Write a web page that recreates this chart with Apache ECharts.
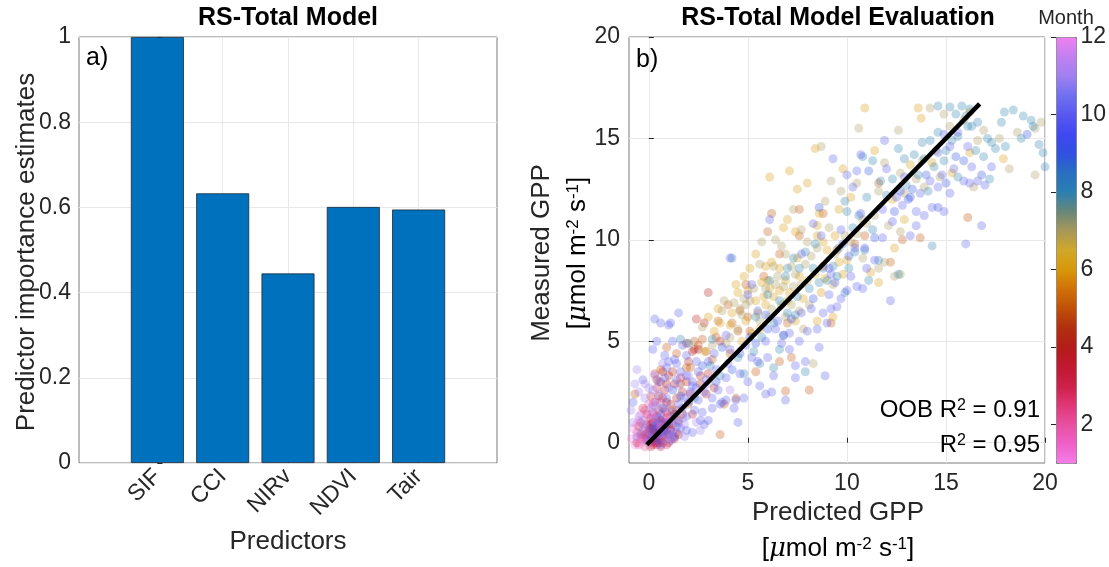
<!DOCTYPE html>
<html>
<head>
<meta charset="utf-8">
<script src="https://cdn.jsdelivr.net/npm/echarts@6/dist/echarts.min.js"></script>
<style>
  html, body { margin: 0; padding: 0; background: #ffffff; }
  #chart { width: 1109px; height: 567px; }
</style>
</head>
<body>
<div id="chart"></div>
<script>
// ---- panel a: predictor importance ----
const predictors = ['SIF', 'CCI', 'NIRv', 'NDVI', 'Tair'];
const importance = [1.0, 0.633, 0.445, 0.601, 0.595];

// ---- panel b: predicted vs measured GPP, one list per month ----
const jan = [[-0.8,0.7],[-0.5,1.1],[-0.9,0.2],[-0.7,-0.1],[0.1,0.3],[-0.4,1.4],[0.2,1.9],[-0.3,0.6],[0.4,0.1],[0.0,1.2],
  [-0.6,0.3],[0.3,0.9],[-0.1,0.2]];
const feb = [[-0.2,1.6],[0.0,1.9],[-0.4,0.2],[0.2,0.0],[0.5,0.6],[0.3,1.2],[0.6,2.0],[0.9,1.5],[-0.2,-0.2],[0.4,0.4],
  [0.0,0.8],[0.7,1.2],[1.1,0.7],[-0.6,0.5],[0.3,0.2],[0.8,0.3],[-0.1,0.5],[0.5,0.9],[1.4,0.5],[0.2,0.6],
  [0.1,0.1],[0.4,0.0],[0.2,0.3],[-0.3,0.3],[0.6,0.1],[0.0,0.6],[-0.5,-0.1],[0.8,0.6],[1.2,0.2],[0.3,0.8]];
const mar = [[0.3,3.4],[0.6,3.0],[0.4,2.7],[0.1,2.3],[-0.3,1.7],[0.5,1.6],[0.2,1.0],[0.6,1.1],[0.3,0.7],[0.0,0.5],
  [0.5,0.3],[0.2,0.2],[-0.2,0.4],[0.7,0.0],[0.4,-0.1],[-0.1,0.1],[0.1,-0.2],[0.9,-0.1],[0.8,0.8],[1.0,0.4],
  [0.3,0.0],[0.6,0.5],[0.1,0.9],[-0.4,1.0],[0.9,1.2],[0.2,1.5],[1.3,0.2],[0.7,0.3],[-0.6,0.0],[0.4,0.6],
  [0.2,0.1],[0.5,0.0],[0.0,0.1],[0.3,0.4],[-0.2,0.2],[0.6,0.7],[0.9,0.4],[0.1,1.2],[-0.4,0.4],[0.4,1.3],
  [0.8,1.6],[1.1,1.3],[0.3,2.0],[-0.1,1.4],[1.4,1.6],[0.7,2.2],[1.6,3.2],[2.1,2.4],[0.2,-0.1],[0.6,-0.2],
  [1.0,0.0],[-0.1,0.9],[0.8,1.0],[0.4,0.2]];
const apr = [[0.8,2.6],[1.2,3.5],[1.0,3.3],[-0.5,0.8],[1.2,0.9],[1.5,1.1],[1.7,1.4],[1.9,3.0],[2.3,4.6],[2.4,6.1],
  [3.0,7.4],[2.6,3.3],[3.3,2.7],[1.5,0.4],[2.0,4.0],[1.4,2.2],[2.9,2.4],[3.6,5.0],[0.6,0.2],[1.1,1.9],
  [0.5,2.3],[1.7,2.5],[1.0,0.9],[2.2,1.4],[0.3,0.5],[0.7,3.5],[0.4,3.1],[1.3,2.9],[0.9,2.9],[2.6,2.9],
  [2.2,4.5],[1.9,4.9],[2.8,5.9],[3.0,3.4],[1.1,0.6],[0.5,1.0],[0.9,2.0],[0.1,0.7],[1.3,1.4],[2.5,4.6]];
const may = [[-0.7,2.4],[6.9,2.55],[8.1,2.6],[4.4,2.2],[3.2,4.1],[2.7,5.1],[4.0,6.8],[2.3,5.0],[4.9,7.8],[3.8,1.9],
  [5.1,5.5],[0.9,4.7],[4.5,5.5],[3.6,0.4],[8.8,11.3],[7.6,11.5],[6.0,10.4],[7.2,4.2],[12.2,8.9],[13.7,10.1],
  [9.2,5.9],[1.6,2.9],[2.0,1.9],[1.2,1.6],[2.1,3.7],[16.1,11.1],[6.2,11.3],[12.8,10.0],[11.6,12.8],[4.6,6.5],
  [3.5,6.0],[5.4,3.5],[7.0,5.9],[2.9,4.5],[10.4,9.8],[2.5,4.8],[3.4,5.2],[4.2,5.9],[5.0,6.2],[5.8,8.2],
  [6.6,9.3],[7.6,10.2],[8.8,8.7],[9.5,9.5],[10.9,10.2],[6.6,4.0],[4.1,4.4],[1.4,4.4],[0.6,3.6],[1.9,3.7]];
const jun = [[10.9,16.5],[13.75,16.0],[8.4,14.5],[7.1,13.4],[6.1,13.1],[5.4,9.3],[5.9,8.7],[6.6,8.6],[7.5,9.1],[6.0,8.0],
  [5.0,7.5],[4.5,7.4],[4.2,6.4],[5.2,5.4],[4.7,5.0],[3.5,6.6],[5.8,7.2],[7.1,7.4],[7.4,6.0],[5.5,6.4],
  [6.8,10.6],[7.4,10.4],[8.5,10.7],[9.6,11.5],[8.5,10.2],[8.8,9.9],[9.6,8.9],[10.0,9.0],[11.2,8.4],[9.8,8.3],
  [8.7,7.4],[9.3,6.2],[8.5,6.0],[11.6,7.9],[7.0,11.0],[4.8,8.2],[3.3,5.5],[3.0,6.2],[8.0,8.0],[6.3,7.2],
  [2.8,4.5],[16.2,14.3],[15.3,13.3],[13.2,13.7],[12.3,12.0],[11.4,14.4],[10.2,12.1],[12.9,11.0],[12.4,9.6],[16.2,16.3],
  [13.6,16.5],[7.5,12.5],[8.0,12.8],[9.8,13.5],[8.6,11.3],[14.3,13.8],[17.9,14.0],
  [4.4,7.8],[5.1,8.6],[5.7,7.9],[6.2,8.9],[6.9,8.0],[7.6,8.2],[7.0,7.0],[6.1,7.6],[5.4,7.0],[4.9,6.0],
  [4.1,5.8],[3.6,5.9],[5.9,6.8],[6.6,7.5],[7.8,7.1],[8.4,8.3],[8.9,8.1],[9.0,9.5],[9.4,10.2],[5.6,5.6]];
const jul = [[14.2,16.5],[19.8,15.8],[19.5,15.5],[19.5,13.2],[18.2,13.5],[16.6,14.9],[16.4,12.6],[15.9,15.9],[14.7,13.1],[13.8,13.9],
  [13.5,13.0],[12.7,13.3],[11.9,13.8],[11.6,12.4],[10.5,12.8],[10.8,11.0],[12.7,10.4],[10.6,15.5],[14.9,16.2],[12.6,15.4],
  [8.7,14.6],[7.3,11.5],[9.2,12.9],[5.6,8.8],[6.3,8.7],[6.9,9.3],[7.2,8.7],[7.9,8.8],[6.5,8.2],[5.3,7.6],
  [4.8,7.1],[4.3,6.9],[4.7,6.3],[4.5,5.6],[3.8,7.0],[3.7,6.5],[4.9,6.8],[6.7,6.8],[7.6,6.5],[6.9,6.2],
  [6.2,6.6],[7.7,10.5],[6.4,10.0],[9.1,10.6],[8.9,11.9],[9.7,12.4],[8.2,9.2],[9.4,9.3],[10.2,9.9],[10.8,9.1],
  [11.6,8.6],[9.3,7.8],[8.1,6.8],[7.8,5.6],[12.4,8.2],[11.9,8.9],[6.7,9.7],[5.7,9.9],[2.7,5.7],[7.7,7.8],
  [7.3,7.7],[3.9,4.9],[8.3,3.9],[12.7,8.3],
  [4.6,6.6],[5.1,7.0],[5.9,7.6],[6.4,7.8],[6.8,7.7],[7.4,8.3],[8.0,9.9],[8.5,9.6],[9.9,10.2],[10.5,10.3],
  [11.0,10.8],[11.4,11.2],[12.1,10.7],[12.9,12.3],[13.9,12.6],[14.5,14.4],[15.2,15.6],[16.9,15.4],[17.7,15.0],[18.6,15.3],
  [6.1,6.2],[7.2,6.8],[4.1,5.2],[3.2,4.8],[5.6,6.0]];
const aug = [[14.6,16.6],[15.2,16.55],[15.8,16.6],[16.2,16.45],[16.0,16.1],[15.5,16.2],[17.95,16.3],[18.4,16.4],[18.9,16.1],[19.3,15.9],
  [19.4,15.6],[19.7,14.7],[20.0,13.6],[17.5,14.5],[17.1,15.0],[17.3,14.8],[16.6,15.8],[16.3,15.6],[15.6,15.1],[14.6,15.3],
  [14.2,14.9],[13.4,14.2],[13.9,14.0],[15.0,14.4],[14.4,13.6],[15.6,13.1],[17.2,13.0],[16.9,14.1],[14.1,12.4],[13.0,12.7],
  [12.6,14.5],[12.3,13.0],[11.3,13.9],[10.8,14.1],[12.0,12.2],[16.1,15.6],[18.0,14.6],[13.6,13.2],
  [6.1,8.0],[6.6,7.0],[7.0,8.6],[7.3,9.1],[7.9,9.4],[8.3,8.6],[8.8,8.6],[9.5,8.2],[9.3,8.7],[10.1,8.6],
  [10.4,9.4],[10.9,9.5],[11.3,10.5],[11.6,9.0],[12.6,8.3],[10.6,11.2],[10.0,11.4],[9.9,11.9],[7.0,6.4],[6.3,5.9],
  [7.4,6.3],[6.8,5.3],[5.4,6.2],[6.3,3.7],[5.6,3.9],[4.2,9.1],[2.0,4.9],[3.2,5.1],[3.6,3.3],[1.6,5.1],
  [14.3,9.7],[7.9,3.5],[5.3,4.5],[4.8,3.4],[6.9,8.2],
  [7.5,7.2],[8.1,7.6],[8.6,7.9],[9.0,8.0],[6.0,7.3],[7.6,8.6],[8.4,9.8],[9.6,9.6],[10.3,10.6],[11.0,12.1],
  [11.7,12.9],[12.9,14.0],[13.8,14.8],[14.9,13.9],[15.3,14.9],[16.5,14.4],[17.8,15.8],[18.8,15.0],[19.9,14.3],[5.7,5.2],
  [6.6,4.6],[4.5,4.2],[3.1,3.8],[2.3,2.2],[9.9,7.4],[11.1,8.0]];
const sep = [[16.8,13.2],[15.9,13.9],[15.5,14.1],[13.2,12.1],[13.3,12.5],[13.1,12.0],[14.6,11.6],[12.4,11.4],[11.1,13.4],[9.8,9.8],
  [8.6,11.6],[5.9,6.3],[5.4,4.9],[4.6,4.4],[0.7,1.7],[0.9,0.5],[1.3,0.3],[1.2,2.6],[3.7,4.7],[19.1,15.2],
  [0.5,0.5],[0.9,0.9],[0.2,0.8],[1.6,2.3],[2.7,3.8],[3.4,3.0],[4.2,3.6],[5.1,5.2],[6.0,5.6],[7.2,6.1],
  [8.3,7.1],[10.1,9.2],[11.4,10.1],[12.7,12.4],[14.0,13.2],[15.0,12.8]];
const oct = [[16.97,12.7],[16.6,12.9],[16.2,12.8],[15.2,14.6],[14.6,14.3],[14.9,15.2],[13.7,12.3],[13.5,11.4],[14.3,11.6],[14.9,11.4],
  [13.5,10.7],[13.2,10.2],[11.8,11.5],[12.0,13.5],[10.5,13.4],[10.0,13.2],[10.3,12.6],[15.2,12.3],[15.9,12.9],[16.3,13.6],
  [15.6,15.3],[16.8,10.7],[16.0,9.8],[12.5,12.1],[12.9,13.1],[14.6,12.6],[14.8,13.2],[11.9,14.9],[10.7,14.2],[9.3,14.0],
  [5.0,7.3],[5.5,6.5],[6.5,6.0],[6.8,5.3],[7.1,5.4],[5.9,5.0],[5.2,4.2],[4.1,4.6],[3.3,4.4],[3.0,4.0],
  [2.5,3.5],[3.9,3.2],[4.6,3.4],[5.0,3.0],[5.6,2.8],[4.8,2.2],[5.9,2.4],[4.4,2.1],[3.7,2.0],[6.2,2.5],
  [7.4,3.2],[7.9,4.0],[8.6,4.7],[9.0,5.9],[8.5,5.6],[8.2,6.6],[7.7,6.4],[9.2,6.6],[9.5,6.7],[9.7,7.1],
  [9.1,7.3],[10.0,7.5],[10.5,7.7],[10.8,7.6],[10.4,9.6],[10.9,9.6],[11.4,9.0],[10.7,11.3],[9.7,10.5],[8.7,10.2],
  [8.3,10.8],[9.1,8.6],[9.2,8.3],[7.7,9.3],[4.1,9.1],[3.9,5.3],[6.1,11.0],[12.2,7.0],[6.7,4.9],[5.2,7.8],
  [8.9,3.3],[7.4,3.8],[6.9,2.1],[4.3,1.7],[2.8,2.5],[3.5,2.6],[2.4,4.0],
  [0.3,6.1],[0.6,5.9],[1.0,5.8],[1.1,5.9],[0.4,5.0],[1.2,5.0],[1.5,6.4],[0.5,3.0],[1.0,4.0],[1.3,4.1],
  [1.4,3.9],[0.9,3.7],[1.6,3.5],[1.9,3.3],[2.2,3.0],[1.9,4.3],[2.2,2.8],[1.8,2.2],[2.5,2.1],[2.7,1.5],
  [3.0,1.1],[2.3,1.6],[1.5,1.9],[1.2,1.5],[0.9,2.2],[1.0,1.0],[1.4,0.8],[1.6,0.7],[1.9,0.6],[2.2,0.5],
  [0.7,0.6],[0.5,1.2],[0.4,0.9],[0.1,0.6],[0.6,-0.1],[1.1,0.1],[2.8,0.9],[3.2,1.7],[3.9,2.1],[4.5,1.0],
  [3.6,1.9],[2.0,2.0],[0.8,3.2],[1.7,4.8],[0.2,0.4],[0.5,0.2],[0.8,0.5],[0.4,0.8],[0.6,1.4],[1.5,1.0],
  [6.0,4.2],[6.4,5.6],[7.1,4.6],[7.6,5.0],[8.0,5.5],[8.8,6.4],[9.4,7.9],[10.2,8.2],[11.0,8.6],[11.8,10.1],
  [12.3,10.9],[12.8,11.7],[13.9,11.2],[14.2,12.9],[15.4,13.5],[16.1,14.6],[17.3,13.6],[3.4,3.6],[2.9,3.1],[2.1,2.5],
  [4.0,3.9],[4.9,4.8],[5.5,4.0],[6.3,3.3],[3.2,2.2],[2.6,1.1],[1.7,1.7],[1.2,0.5],[0.7,1.0],[0.3,0.1],
  [0.0,0.2],[1.9,1.3],[2.4,2.7],[1.4,3.1],[0.8,4.3],[0.2,4.6],[-0.3,3.1],[-0.8,2.0]];
const nov = [[-0.6,3.6],[-0.7,2.9],[-0.5,2.5],[-0.2,2.2],[0.2,2.6],[0.4,2.0],[0.2,1.4],[-0.3,0.9],[-0.6,0.3],[-0.4,0.5],
  [0.3,3.3],[-0.9,1.6],[1.1,0.5],[0.3,1.8],[-0.3,1.1],[0.8,0.2],[1.3,1.2],[0.0,2.7],[2.4,1.0],[1.8,0.3],
  [0.0,0.3],[-0.2,0.7],[1.8,0.9],[0.9,1.8],[0.3,1.1],[1.1,0.3],
  [0.1,1.7],[-0.5,1.3],[0.5,2.4],[1.0,2.7],[1.5,2.8],[2.0,3.3],[0.7,3.9],[1.2,1.1],[-0.1,0.0],[-0.8,1.0],
  [-0.2,2.9],[0.6,0.4],[1.7,1.2],[2.6,0.6],[3.0,2.9],[4.1,2.6]];
const dec = [[-0.6,0.9],[0.1,1.4],[-0.3,0.1],[0.6,0.8],[1.0,1.1]];

// regression line end points and fit statistics
const fitLine = [[-0.1, -0.1], [16.7, 16.7]];
const oobR2 = '0.91';
const fitR2 = '0.95';

// tick values
const gppTicks = [0, 5, 10, 15, 20];
const monthTicks = [2, 4, 6, 8, 10, 12];

// month colour scale, stops at half-month steps from 1 to 12
const monthColors = ['#f47ee8', '#f060c8', '#e850a0', '#e03878', '#cc2048', '#c01830', '#b41c18', '#b03010',
  '#c05008', '#d07008', '#d89808', '#d0a828', '#a89858', '#688878', '#2a80b0', '#2870c0', '#3050e0',
  '#4048f0', '#5858f0', '#7070f0', '#a080f0', '#c080f0', '#f080f0'];

const monthSets = [[1, jan], [2, feb], [3, mar], [4, apr], [5, may], [6, jun], [7, jul], [8, aug],
  [9, sep], [10, oct], [11, nov], [12, dec]];
const scatterData = [];
monthSets.forEach(([m, pts]) => pts.forEach(p => scatterData.push([p[0], p[1], m])));

const FONT = "'Liberation Sans', Arial, Helvetica, sans-serif";
const INK = '#262626';
const FRAME = '#7a7a7a';
const GRIDLINE = '#e8e8e8';
const TICK_FS = 23;
const LABEL_FS = 26;

const unitRich = {
  n: { fontSize: LABEL_FS, fontFamily: FONT, color: INK },
  m: { fontSize: LABEL_FS, fontFamily: "'DejaVu Serif', serif", fontStyle: 'italic', color: INK },
  s: { fontSize: 17, fontFamily: FONT, color: INK, verticalAlign: 'top' }
};
const r2Rich = {
  n: { fontSize: 24, fontFamily: FONT, color: '#000' },
  s: { fontSize: 16, fontFamily: FONT, color: '#000', verticalAlign: 'top' }
};
const unitText = '{n|[}{m|μ}{n|mol m}{s|-2}{n| s}{s|-1}{n|]}';

function label(x, y, text, size, extra) {
  return {
    type: 'text', x: x, y: y, z: 50,
    style: Object.assign({ text: text, fontSize: size, fontFamily: FONT, fill: '#000',
      align: 'center', verticalAlign: 'middle' }, extra || {})
  };
}

const chart = echarts.init(document.getElementById('chart'), null, { renderer: 'canvas' });

chart.setOption({
  backgroundColor: '#ffffff',
  animation: false,
  textStyle: { fontFamily: FONT },
  grid: [
    { left: 79, top: 37, width: 418, height: 426, show: true, borderColor: FRAME, borderWidth: 1, backgroundColor: 'transparent' },
    { left: 629, top: 37, width: 416, height: 426, show: true, borderColor: FRAME, borderWidth: 1, backgroundColor: 'transparent' },
    { left: 1056, top: 37, width: 20, height: 426, show: false }
  ],
  xAxis: [
    {
      gridIndex: 0, type: 'value', min: -1.2, max: 5.2,
      axisLine: { show: false },
      axisTick: { show: true, inside: true, length: 5, customValues: [0, 1, 2, 3, 4], lineStyle: { color: INK } },
      axisLabel: { customValues: [0, 1, 2, 3, 4], rotate: 45, fontSize: TICK_FS, color: INK, margin: 10,
        formatter: v => predictors[v] },
      splitLine: { show: true, lineStyle: { color: GRIDLINE } }
    },
    {
      gridIndex: 1, type: 'value', min: -1, max: 20,
      axisLine: { show: false },
      axisTick: { show: true, inside: true, length: 5, customValues: gppTicks, lineStyle: { color: INK } },
      axisLabel: { customValues: gppTicks, fontSize: TICK_FS, color: INK, margin: 9 },
      splitLine: { show: true, lineStyle: { color: GRIDLINE } }
    },
    { gridIndex: 2, type: 'value', min: 0, max: 1, show: false }
  ],
  yAxis: [
    {
      gridIndex: 0, type: 'value', min: 0, max: 1, interval: 0.2,
      axisLine: { show: false },
      axisTick: { show: true, inside: true, length: 5, lineStyle: { color: INK } },
      axisLabel: { fontSize: TICK_FS, color: INK, margin: 8 },
      splitLine: { show: true, lineStyle: { color: GRIDLINE } }
    },
    {
      gridIndex: 1, type: 'value', min: -1, max: 20,
      axisLine: { show: false },
      axisTick: { show: true, inside: true, length: 5, customValues: gppTicks, lineStyle: { color: INK } },
      axisLabel: { customValues: gppTicks, fontSize: TICK_FS, color: INK, margin: 9 },
      splitLine: { show: true, lineStyle: { color: GRIDLINE } }
    },
    {
      gridIndex: 2, type: 'value', min: 1, max: 12, position: 'right', z: 10,
      axisLine: { show: false },
      axisTick: { show: true, inside: true, length: 5, customValues: monthTicks, lineStyle: { color: INK } },
      axisLabel: { customValues: monthTicks, fontSize: TICK_FS, color: INK, margin: 6 },
      splitLine: { show: false }
    }
  ],
  visualMap: {
    type: 'continuous', seriesIndex: 1, dimension: 2, min: 1, max: 12,
    orient: 'vertical', left: 1056, top: 37, itemWidth: 20, itemHeight: 426,
    padding: 0, calculable: false, text: null, showLabel: false,
    borderColor: FRAME, borderWidth: 1,
    inRange: { color: monthColors }
  },
  series: [
    {
      type: 'bar', xAxisIndex: 0, yAxisIndex: 0, barWidth: 53,
      data: importance.map((v, i) => [i, v]),
      itemStyle: { color: '#0072BD', borderColor: '#1c2a38', borderWidth: 0.8 }
    },
    {
      type: 'scatter', xAxisIndex: 1, yAxisIndex: 1, symbolSize: 9,
      data: scatterData,
      itemStyle: { opacity: 0.3 }
    },
    {
      type: 'line', xAxisIndex: 1, yAxisIndex: 1, data: fitLine, symbol: 'none', z: 5,
      lineStyle: { color: '#000000', width: 4.5 }
    }
  ],
  graphic: [
    label(288, 18, 'RS-Total Model', 25, { fontWeight: 'bold' }),
    label(838, 18, 'RS-Total Model Evaluation', 25, { fontWeight: 'bold' }),
    label(1066, 18, 'Month', 20, { fill: INK }),
    label(86, 58, 'a)', 25, { align: 'left' }),
    label(636, 60, 'b)', 25, { align: 'left' }),
    Object.assign(label(27, 252, 'Predictor importance estimates', LABEL_FS, { fill: INK }), { rotation: Math.PI / 2 }),
    label(288, 542, 'Predictors', LABEL_FS, { fill: INK }),
    label(838, 513, 'Predicted GPP', LABEL_FS, { fill: INK }),
    label(838, 549, unitText, LABEL_FS, { rich: unitRich }),
    Object.assign(label(542, 253, 'Measured GPP', LABEL_FS, { fill: INK }), { rotation: Math.PI / 2 }),
    Object.assign(label(578, 253, unitText, LABEL_FS, { rich: unitRich }), { rotation: Math.PI / 2 }),
    label(1040, 410, '{n|OOB R}{s|2}{n| = ' + oobR2 + '}', 24, { align: 'right', rich: r2Rich }),
    label(1040, 445, '{n|R}{s|2}{n| = ' + fitR2 + '}', 24, { align: 'right', rich: r2Rich })
  ]
});
</script>
</body>
</html>
